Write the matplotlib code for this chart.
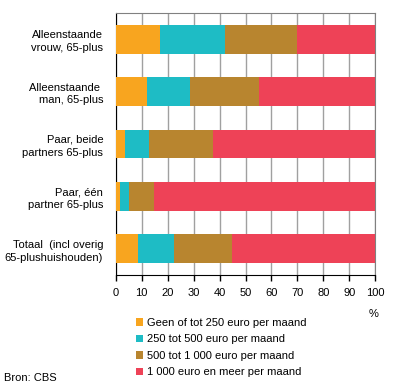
import matplotlib
matplotlib.use('Agg')
import matplotlib.pyplot as plt
from matplotlib.patches import Patch

plt.rcParams['font.family'] = ['Liberation Sans', 'DejaVu Sans']

categories = [
    'Alleenstaande\nvrouw, 65-plus',
    'Alleenstaande \nman, 65-plus',
    'Paar, beide\npartners 65-plus',
    'Paar, één\npartner 65-plus',
    'Totaal  (incl overig\n65-plushuishouden)',
]
series_names = [
    'Geen of tot 250 euro per maand',
    '250 tot 500 euro per maand',
    '500 tot 1 000 euro per maand',
    '1 000 euro en meer per maand',
]
geen_250 = [17.1, 12.1, 3.6, 1.7, 8.6]
tot_500 = [25.0, 16.4, 9.2, 3.6, 13.7]
tot_1000 = [27.7, 26.7, 24.7, 9.5, 22.5]
meer_1000 = [30.2, 44.8, 62.5, 85.2, 55.2]
colors = ['#F8A51F', '#1EBCC5', '#B8852F', '#EE4257']
xticks = [0, 10, 20, 30, 40, 50, 60, 70, 80, 90, 100]

fs = 8

fig = plt.figure(figsize=(3.96, 3.88), dpi=100)
ax = fig.add_axes([115.67 / 396, 1 - 275 / 388, 259.67 / 396, 262 / 388])

ypos = list(range(len(categories)))
left = [0] * len(categories)
for vals, name, col in zip([geen_250, tot_500, tot_1000, meer_1000], series_names, colors):
    ax.barh(ypos, vals, left=left, height=0.55, color=col, label=name, zorder=3)
    left = [l + v for l, v in zip(left, vals)]

ax.set_xlim(0, 100)
ax.set_ylim(4.5, -0.5)
ax.set_xticks(xticks)
ax.set_xticklabels([str(t) for t in xticks], fontsize=fs)
ax.set_yticks(ypos)
ax.set_yticklabels(categories, fontsize=fs, linespacing=1.35)
ax.tick_params(axis='y', length=0, pad=9)
ax.tick_params(axis='x', length=4, width=1, color='black', pad=5)
ax.grid(axis='x', color='#a0a0a0', linewidth=1, zorder=0)
for side in ['top', 'right']:
    ax.spines[side].set_color('#808080')
for side in ['left', 'bottom']:
    ax.spines[side].set_color('black')

fig.text(374 / 396, 1 - 314 / 388, '%', fontsize=fs, ha='center', va='center')

handles = [Patch(facecolor=c, edgecolor='none') for c in colors]
fig.legend(handles, series_names, loc='upper left', bbox_to_anchor=(136 / 396, 1 - 318 / 388),
           frameon=False, fontsize=fs, handlelength=0.65, handleheight=0.65,
           handletextpad=0.3, labelspacing=0.58, borderpad=0, borderaxespad=0)

fig.text(4 / 396, 1 - 378 / 388, 'Bron: CBS', fontsize=fs, ha='left', va='center')

fig.savefig('out.png', dpi=100)
